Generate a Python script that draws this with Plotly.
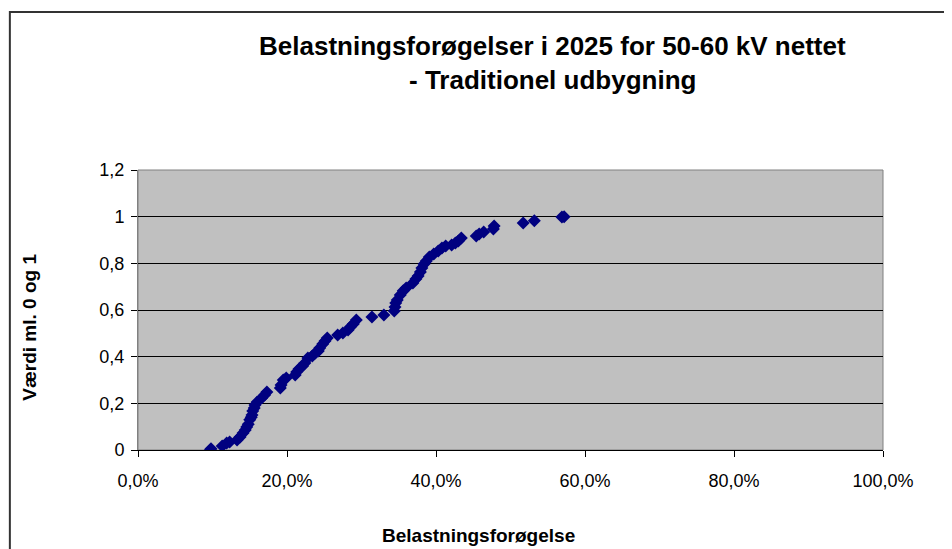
import plotly.graph_objects as go

# Belastningsforøgelse (fraction) and rank value between 0 and 1
load_increase = [
    0.097, 0.098, 0.113, 0.119, 0.123, 0.133, 0.137, 0.141, 0.144, 0.146,
    0.148, 0.150, 0.152, 0.153, 0.154, 0.156, 0.157, 0.160, 0.166, 0.170,
    0.173, 0.191, 0.192, 0.195, 0.199, 0.211, 0.213, 0.216, 0.221, 0.224,
    0.228, 0.234, 0.238, 0.242, 0.244, 0.248, 0.251, 0.254, 0.268, 0.275,
    0.282, 0.285, 0.289, 0.293, 0.314, 0.330, 0.344, 0.345, 0.346, 0.348,
    0.352, 0.356, 0.360, 0.369, 0.373, 0.376, 0.379, 0.381, 0.384, 0.387,
    0.391, 0.397, 0.403, 0.408, 0.413, 0.421, 0.426, 0.430, 0.434, 0.454,
    0.458, 0.464, 0.477, 0.478, 0.517, 0.532, 0.569, 0.572,
]
rank_value = [
    0.000, 0.005, 0.017, 0.030, 0.034, 0.043, 0.056, 0.073, 0.086, 0.099,
    0.110, 0.130, 0.140, 0.150, 0.167, 0.180, 0.193, 0.206, 0.223, 0.236,
    0.249, 0.266, 0.279, 0.300, 0.309, 0.321, 0.334, 0.347, 0.360, 0.373,
    0.394, 0.403, 0.416, 0.424, 0.437, 0.454, 0.467, 0.480, 0.493, 0.501,
    0.514, 0.527, 0.540, 0.557, 0.570, 0.579, 0.596, 0.613, 0.630, 0.643,
    0.664, 0.682, 0.694, 0.716, 0.733, 0.746, 0.763, 0.780, 0.797, 0.810,
    0.827, 0.840, 0.853, 0.866, 0.874, 0.879, 0.887, 0.896, 0.909, 0.917,
    0.926, 0.934, 0.947, 0.960, 0.973, 0.982, 0.999, 1.000,
]

x_ticks = [0.0, 0.2, 0.4, 0.6, 0.8, 1.0]
x_labels = ["0,0%", "20,0%", "40,0%", "60,0%", "80,0%", "100,0%"]
y_ticks = [0.0, 0.2, 0.4, 0.6, 0.8, 1.0, 1.2]
y_labels = ["0", "0,2", "0,4", "0,6", "0,8", "1", "1,2"]

FONT = "Liberation Sans, Arial, sans-serif"

fig = go.Figure()
fig.add_trace(go.Scatter(
    x=load_increase, y=rank_value, mode="markers",
    marker=dict(symbol="diamond", size=10, color="#000080",
                line=dict(width=0)),
    showlegend=False,
))

# page body adds an 8px margin, so the figure is shifted by 8px
fig.update_layout(
    width=952, height=549,
    margin=dict(l=130, r=77, t=162, b=107),
    paper_bgcolor="white",
    plot_bgcolor="#C0C0C0",
    font=dict(family=FONT, color="black"),
    xaxis=dict(
        range=[0, 1], tickvals=x_ticks, ticktext=x_labels,
        showgrid=False, zeroline=False,
        showline=True, linecolor="black", linewidth=1,
        ticks="outside", ticklen=6, tickcolor="black",
        tickfont=dict(size=18), ticklabelstandoff=8,
    ),
    yaxis=dict(
        range=[0, 1.2], tickvals=y_ticks, ticktext=y_labels,
        showgrid=True, gridcolor="black", gridwidth=1,
        zeroline=False,
        showline=True, linecolor="#808080", linewidth=1,
        ticks="outside", ticklen=6, tickcolor="black",
        tickfont=dict(size=18), ticklabelstandoff=3,
    ),
    shapes=[
        # plot area frame
        dict(type="rect", xref="paper", yref="paper", x0=0, y0=0, x1=1, y1=1,
             line=dict(color="#808080", width=1), layer="below"),
        # outer chart border
        dict(type="rect", xref="paper", yref="paper",
             x0=-0.172, y0=-0.45, x1=1.2, y1=1.564,
             line=dict(color="#333333", width=2)),
    ],
    annotations=[
        dict(text="<b>Belastningsforøgelser i 2025 for 50-60 kV nettet</b>",
             xref="paper", yref="paper", x=0.556, y=1.443,
             showarrow=False, font=dict(size=26), xanchor="center", yanchor="middle"),
        dict(text="<b>- Traditionel udbygning</b>",
             xref="paper", yref="paper", x=0.556, y=1.321,
             showarrow=False, font=dict(size=26), xanchor="center", yanchor="middle"),
        dict(text="<b>Belastningsforøgelse</b>",
             xref="paper", yref="paper", x=0.457, y=-0.304,
             showarrow=False, font=dict(size=19), xanchor="center", yanchor="middle"),
        dict(text="<b>Værdi ml. 0 og 1</b>",
             xref="paper", yref="paper", x=-0.145, y=0.44, textangle=-90,
             showarrow=False, font=dict(size=19), xanchor="center", yanchor="middle"),
    ],
)

fig.write_html("out.html")
